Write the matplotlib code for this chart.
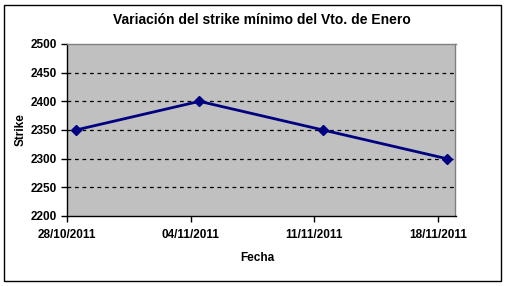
import matplotlib
matplotlib.use("Agg")
import matplotlib.pyplot as plt
import matplotlib.dates as mdates
from matplotlib.patches import Rectangle
from datetime import datetime, timedelta

plt.rcParams['font.family'] = ['Liberation Sans', 'DejaVu Sans']

title = "Variación del strike mínimo del Vto. de Enero"
dates = ["28/10/2011", "04/11/2011", "11/11/2011", "18/11/2011"]
strike = [2350, 2400, 2350, 2300]
y_ticks = [2200, 2250, 2300, 2350, 2400, 2450, 2500]
x_label = "Fecha"
y_label = "Strike"

d = [datetime.strptime(s, "%d/%m/%Y") for s in dates]
d_mid = [x + timedelta(hours=12) for x in d]

W, H = 513, 286
fig = plt.figure(figsize=(W / 100, H / 100), dpi=100)
fig.patch.set_facecolor("white")

# outer chart border
fig.patches.append(Rectangle((4 / W, 5 / H), 497 / W, 276 / H, transform=fig.transFigure,
                             fill=False, edgecolor="black", linewidth=1.0))

ax = fig.add_axes([67 / W, 70 / H, 388.5 / W, 172 / H])
ax.set_facecolor("#C0C0C0")

ax.plot(d_mid, strike, color="#000080", linewidth=2, marker="D", markersize=5,
        markerfacecolor="#000080", markeredgecolor="#000080", zorder=3)

ax.set_ylim(2200, 2500)
ax.set_yticks(y_ticks)
ax.set_xlim(d[0], d[-1] + timedelta(days=1))
ax.set_xticks(d)
ax.set_xticklabels(dates)

for y in y_ticks[1:-1]:
    ax.axhline(y, color="black", linestyle=(0, (3, 3)), linewidth=0.9, zorder=1)

for s in ["top", "right"]:
    ax.spines[s].set_color("#808080")
    ax.spines[s].set_linewidth(1.0)
for s in ["left", "bottom"]:
    ax.spines[s].set_color("black")
    ax.spines[s].set_linewidth(1.0)

ax.tick_params(axis="both", direction="out", length=4, width=1, color="black",
               labelsize=8.5, pad=3)
for lbl in ax.get_xticklabels() + ax.get_yticklabels():
    lbl.set_fontweight("bold")
ax.tick_params(axis="x", pad=5)

fig.text(262 / W, 1 - 20 / H, title, ha="center", va="center", fontsize=10,
         fontweight="bold")
fig.text(257 / W, 1 - 258 / H, x_label, ha="center", va="center", fontsize=8.5,
         fontweight="bold")
fig.text(21 / W, 1 - 130 / H, y_label, ha="center", va="center", fontsize=8.5,
         fontweight="bold", rotation=90)

fig.savefig("out.png", dpi=100)
